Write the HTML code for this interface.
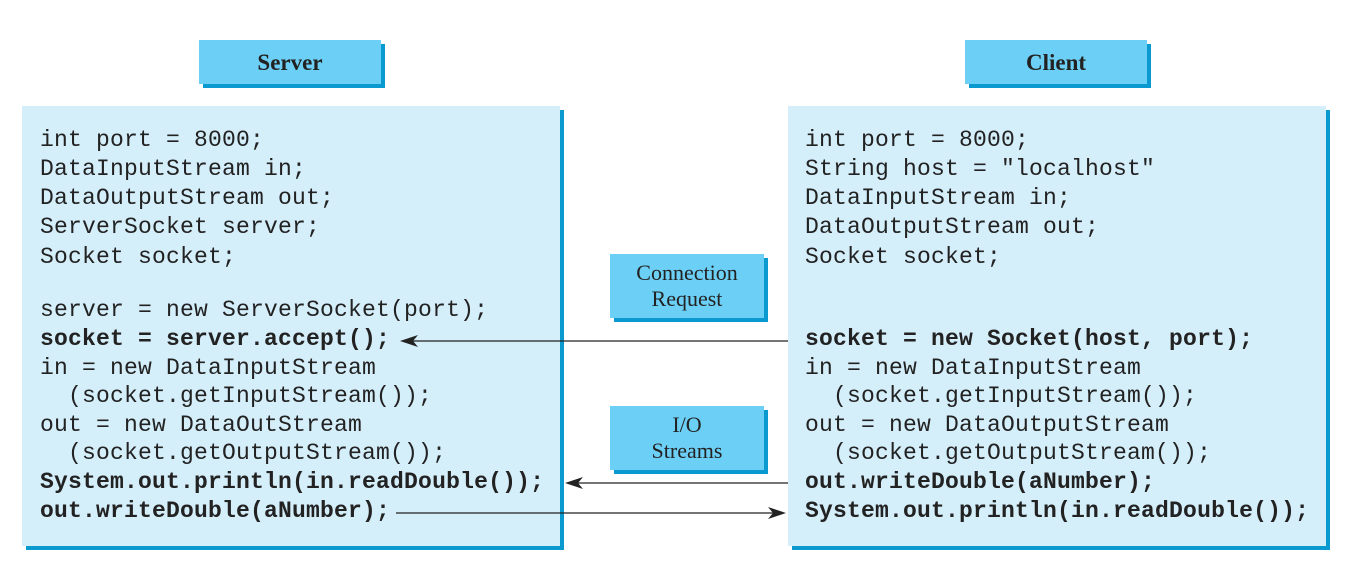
<!DOCTYPE html>
<html><head><meta charset="utf-8"><style>
body{margin:0;width:1352px;height:570px;background:#fff;position:relative;overflow:hidden}
.box{position:absolute;background:#d4eefa;box-shadow:4px 4px 0 #0a9ad0}
.lbl{position:absolute;background:#6cd0f6;box-shadow:4px 4px 0 #0a9ad0;font-family:"Liberation Serif",serif;color:#222;text-align:center;display:flex;align-items:center;justify-content:center}
.l{position:absolute;font-family:"Liberation Mono",monospace;font-size:23px;letter-spacing:0.2px;line-height:29px;height:29px;white-space:pre;color:#222}
.b{font-weight:bold}
</style></head><body>
<div class="lbl" style="left:199px;top:40px;width:182px;height:44px;font-weight:bold;font-size:23px;padding-top:2px;box-sizing:border-box">Server</div>
<div class="lbl" style="left:965px;top:40px;width:182px;height:44px;font-weight:bold;font-size:23px;padding-top:2px;box-sizing:border-box">Client</div>
<div class="box" style="left:22px;top:106px;width:538px;height:440px"></div>
<div class="box" style="left:788px;top:106px;width:538px;height:440px"></div>
<div class="lbl" style="left:610px;top:254px;width:154px;height:64px;font-size:22px;line-height:26px">Connection<br>Request</div>
<div class="lbl" style="left:610px;top:406px;width:154px;height:64px;font-size:22px;line-height:26px">I/O<br>Streams</div>

<div class="l" style="left:40px;top:126px">int port = 8000;</div>
<div class="l" style="left:40px;top:155px">DataInputStream in;</div>
<div class="l" style="left:40px;top:184px">DataOutputStream out;</div>
<div class="l" style="left:40px;top:213px">ServerSocket server;</div>
<div class="l" style="left:40px;top:243px">Socket socket;</div>
<div class="l" style="left:40px;top:296px">server = new ServerSocket(port);</div>
<div class="l b" style="left:40px;top:325px">socket = server.accept();</div>
<div class="l" style="left:40px;top:354px">in = new DataInputStream</div>
<div class="l" style="left:40px;top:382px">  (socket.getInputStream());</div>
<div class="l" style="left:40px;top:411px">out = new DataOutStream</div>
<div class="l" style="left:40px;top:439px">  (socket.getOutputStream());</div>
<div class="l b" style="left:40px;top:468px">System.out.println(in.readDouble());</div>
<div class="l b" style="left:40px;top:497px">out.writeDouble(aNumber);</div>

<div class="l" style="left:805px;top:126px">int port = 8000;</div>
<div class="l" style="left:805px;top:155px">String host = "localhost"</div>
<div class="l" style="left:805px;top:184px">DataInputStream in;</div>
<div class="l" style="left:805px;top:213px">DataOutputStream out;</div>
<div class="l" style="left:805px;top:243px">Socket socket;</div>
<div class="l b" style="left:805px;top:325px">socket = new Socket(host, port);</div>
<div class="l" style="left:805px;top:354px">in = new DataInputStream</div>
<div class="l" style="left:805px;top:382px">  (socket.getInputStream());</div>
<div class="l" style="left:805px;top:411px">out = new DataOutputStream</div>
<div class="l" style="left:805px;top:439px">  (socket.getOutputStream());</div>
<div class="l b" style="left:805px;top:468px">out.writeDouble(aNumber);</div>
<div class="l b" style="left:805px;top:497px">System.out.println(in.readDouble());</div>

<svg width="1352" height="570" style="position:absolute;left:0;top:0">
<g stroke="#222" stroke-width="1.3">
<line x1="788" y1="341" x2="405" y2="341"/>
<line x1="788" y1="483" x2="570" y2="483"/>
<line x1="396" y1="513" x2="780" y2="513"/>
</g>
<g fill="#222">
<path d="M400 341 L418 335 L413 341 L418 347 Z"/>
<path d="M565 483 L583 477 L578 483 L583 489 Z"/>
<path d="M786 513 L768 507 L773 513 L768 519 Z"/>
</g>
</svg>
</body></html>
